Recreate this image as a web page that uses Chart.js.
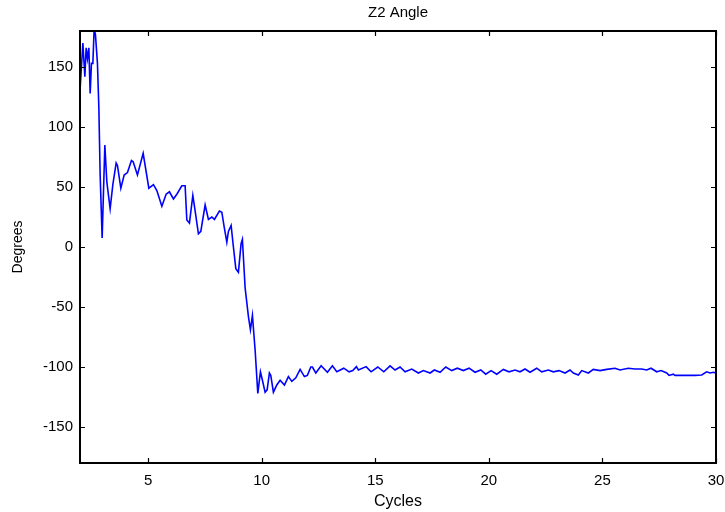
<!DOCTYPE html>
<html>
<head>
<meta charset="utf-8">
<script src="https://cdn.jsdelivr.net/npm/chart.js@4.4.1/dist/chart.umd.min.js"></script>
<style>
  html, body { margin: 0; padding: 0; background: #fff; }
  #wrap { width: 725px; height: 512px; position: relative; }
</style>
</head>
<body>
<div id="wrap"><canvas id="chart"></canvas></div>
<script>
const cycles = [
  2.0, 2.126, 2.214, 2.271, 2.328, 2.39, 2.447, 2.504, 2.566, 2.623, 2.68, 2.768, 2.83, 2.887, 2.975,
  3.094, 3.182, 3.327, 3.446, 3.592, 3.649, 3.798, 3.944, 4.089, 4.265, 4.34, 4.529, 4.78, 5.031,
  5.233, 5.383, 5.603, 5.792, 5.937, 6.114, 6.263, 6.483, 6.628, 6.703, 6.818, 6.967, 7.038, 7.214,
  7.319, 7.509, 7.654, 7.804, 7.918, 8.138, 8.244, 8.345, 8.464, 8.534, 8.653, 8.754, 8.86, 8.974,
  9.093, 9.15, 9.269, 9.415, 9.503, 9.591, 9.71, 9.828, 9.943, 10.031, 10.15, 10.238, 10.339, 10.4,
  10.515, 10.665, 10.81, 10.999, 11.175, 11.325, 11.501, 11.69, 11.88, 12.01, 12.161, 12.231, 12.381,
  12.615, 12.892, 13.112, 13.305, 13.613, 13.847, 14.01, 14.168, 14.256, 14.595, 14.815, 15.11, 15.374,
  15.651, 15.871, 16.091, 16.311, 16.606, 16.897, 17.117, 17.412, 17.601, 17.852, 18.103, 18.367,
  18.613, 18.877, 19.128, 19.392, 19.643, 19.863, 20.097, 20.347, 20.638, 20.889, 21.153, 21.373,
  21.593, 21.813, 22.108, 22.328, 22.619, 22.839, 23.09, 23.354, 23.574, 23.719, 23.939, 24.089,
  24.379, 24.599, 24.894, 25.189, 25.554, 25.774, 26.14, 26.434, 26.729, 26.949, 27.139, 27.39,
  27.579, 27.83, 27.931, 28.12, 28.195, 28.635, 29.075, 29.37, 29.59, 29.736, 29.881, 30.0
];

const z2Angle = [
  130, 170, 142, 166, 157, 166, 128, 153, 153, 182, 177, 153, 116, 60, 7.5,
  85, 54, 32, 52, 70, 68, 49, 60, 62, 72, 71, 60, 78, 49,
  52, 47, 34, 44, 46, 40, 44, 51, 51, 22.5, 20, 43, 34, 11,
  13, 35, 23, 25, 23, 30, 29, 17, 4, 13, 18, 0, -18, -21,
  3, 6.4, -34, -58, -69, -57, -86, -122, -104, -111, -121, -119, -105, -107,
  -121, -115, -111, -115, -108, -112, -109, -102, -108, -107, -100, -100, -105,
  -99, -104.4, -99, -104, -101, -104, -103, -99.7, -102.5, -99.7, -104, -100, -104,
  -99, -102.5, -100, -104, -101.7, -105, -103, -105, -102.5, -104.4, -100, -103,
  -101, -103, -101, -104.4, -102.5, -106, -103, -106, -102, -104, -102.5, -104,
  -101.7, -104.4, -101, -104, -102.5, -104, -103, -105, -102.5, -105, -106.7, -103,
  -105, -102, -103, -102, -101, -102.5, -101, -101.7, -101.7, -102.5, -101, -104,
  -103, -105, -107, -106, -107, -107, -107, -106.7, -104, -105, -104.4, -105
];

const xTickValues = [5, 10, 15, 20, 25, 30];
const yTickValues = [-150, -100, -50, 0, 50, 100, 150];

const FONT = "'Liberation Sans', Arial, Helvetica, sans-serif";

// Matlab-style box: thick frame plus inward ticks on all four sides.
const boxFrame = {
  id: "boxFrame",
  afterDatasetsDraw(chart) {
    const { ctx, chartArea } = chart;
    const { left, right, top, bottom } = chartArea;
    const xScale = chart.scales.x;
    const yScale = chart.scales.y;
    const tickLen = 5;

    ctx.save();
    ctx.strokeStyle = "#000";
    ctx.lineWidth = 1.2;
    ctx.beginPath();
    xTickValues.forEach((v) => {
      const px = Math.round(xScale.getPixelForValue(v)) + 0.5;
      ctx.moveTo(px, bottom);
      ctx.lineTo(px, bottom - tickLen);
      ctx.moveTo(px, top);
      ctx.lineTo(px, top + tickLen);
    });
    yTickValues.forEach((v) => {
      const py = Math.round(yScale.getPixelForValue(v)) + 0.5;
      ctx.moveTo(left, py);
      ctx.lineTo(left + tickLen, py);
      ctx.moveTo(right, py);
      ctx.lineTo(right - tickLen, py);
    });
    ctx.stroke();

    ctx.lineWidth = 2;
    ctx.strokeRect(left, top, right - left, bottom - top);
    ctx.restore();
  },
};

new Chart(document.getElementById("chart"), {
  type: "line",
  data: {
    datasets: [
      {
        label: "Z2 Angle",
        data: cycles.map((c, i) => ({ x: c, y: z2Angle[i] })),
        borderColor: "#0000ff",
        borderWidth: 1.6,
        pointRadius: 0,
        tension: 0,
        fill: false,
      },
    ],
  },
  options: {
    responsive: true,
    maintainAspectRatio: false,
    animation: false,
    layout: { padding: { left: 0, right: 9, top: 0, bottom: 0 } },
    plugins: {
      legend: { display: false },
      tooltip: { enabled: false },
      title: {
        display: true,
        text: "Z2 Angle",
        fullSize: false,
        color: "#000",
        font: { family: FONT, size: 15, weight: "normal" },
        padding: { top: 4, bottom: 9 },
      },
    },
    scales: {
      x: {
        type: "linear",
        min: 2,
        max: 30,
        grid: { display: false, drawTicks: false },
        border: { display: false },
        afterBuildTicks: (scale) => {
          scale.ticks = xTickValues.map((v) => ({ value: v }));
        },
        afterFit: (scale) => {
          scale.height = 49;
          scale.paddingLeft = 0;
          scale.paddingRight = 0;
        },
        ticks: {
          color: "#000",
          padding: 9,
          maxRotation: 0,
          font: { family: FONT, size: 15 },
        },
        title: {
          display: true,
          text: "Cycles",
          color: "#000",
          font: { family: FONT, size: 16 },
          padding: { top: 0, bottom: 1 },
        },
      },
      y: {
        type: "linear",
        min: -180,
        max: 180,
        grid: { display: false, drawTicks: false },
        border: { display: false },
        afterBuildTicks: (scale) => {
          scale.ticks = yTickValues.map((v) => ({ value: v }));
        },
        afterFit: (scale) => {
          scale.width = 80;
          scale.paddingTop = 0;
          scale.paddingBottom = 0;
        },
        ticks: {
          color: "#000",
          padding: 7,
          font: { family: FONT, size: 15 },
        },
        title: {
          display: true,
          text: "Degrees",
          color: "#000",
          font: { family: FONT, size: 14 },
          padding: { top: 10, bottom: 0 },
        },
      },
    },
  },
  plugins: [boxFrame],
});
</script>
</body>
</html>
